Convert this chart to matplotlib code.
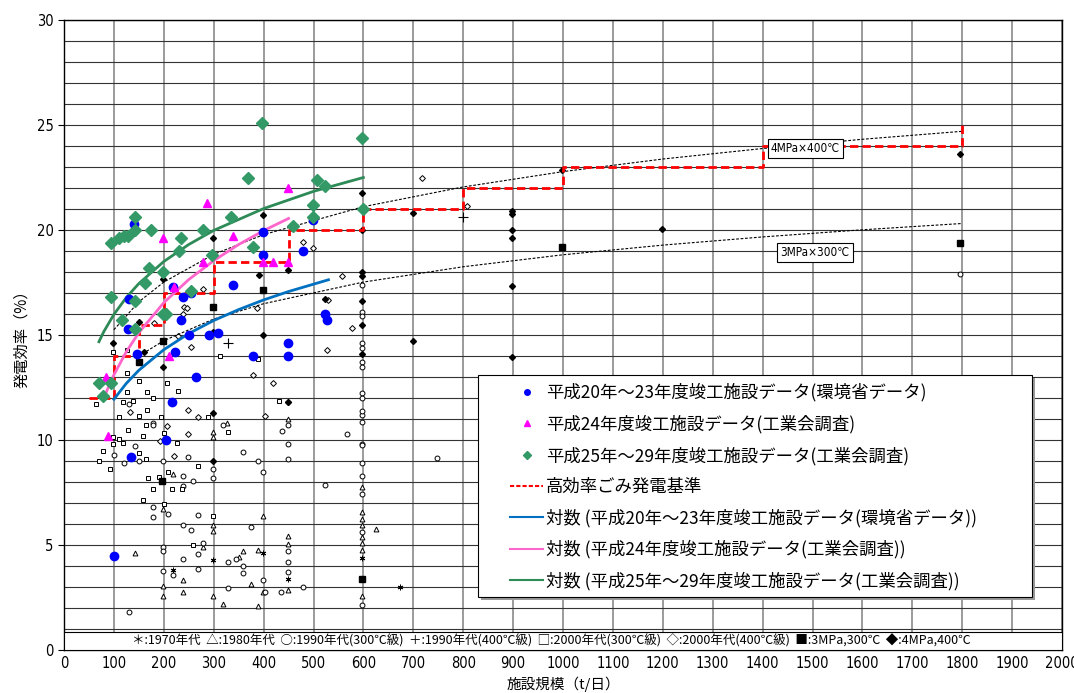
import matplotlib
matplotlib.use("Agg")
from matplotlib import pyplot as plt, font_manager
from matplotlib.lines import Line2D
from matplotlib.patches import Rectangle

plt.rcParams["font.family"] = ["Noto Sans CJK JP", "DejaVu Sans"]
installed = {f.name for f in font_manager.fontManager.ttflist}
narrow = "Liberation Sans Narrow" if "Liberation Sans Narrow" in installed else "DejaVu Sans"

# --- colour series ---
blue_x = [101, 128, 131, 134, 140, 146, 204, 217, 219, 223, 234, 239, 251, 254, 264, 291, 308, 339, 378, 398,
          399, 448, 448, 478, 498, 524, 528]
blue_y = [4.5, 15.3, 16.7, 9.2, 20.3, 14.1, 10.0, 11.8, 17.3, 14.2, 15.7, 16.8, 15.0, 17.0, 13.0, 15.0, 15.1,
          17.4, 14.0, 18.8, 19.9, 14.6, 14.0, 19.0, 20.5, 16.0, 15.7]

pink_x = [84, 88, 199, 211, 220, 279, 286, 339, 399, 419, 449, 449]
pink_y = [13.0, 10.2, 19.6, 14.0, 17.3, 18.5, 21.3, 19.7, 18.5, 18.5, 18.5, 22.0]

green_x = [70, 79, 95, 94, 95, 110, 120, 128, 142, 142, 117, 143, 142, 162, 170, 174, 199, 199, 205, 230,
           234, 254, 279, 297, 335, 368, 379, 397, 459, 498, 498, 508, 524, 597, 599]
green_y = [12.7, 12.1, 12.7, 16.8, 19.4, 19.6, 19.7, 19.7, 20.0, 20.6, 15.7, 15.3, 16.6, 17.5, 18.2, 20.0,
           18.0, 16.0, 16.0, 19.0, 19.6, 17.1, 20.0, 18.8, 20.6, 22.5, 19.2, 25.1, 20.2, 21.2, 20.6, 22.4,
           22.1, 24.4, 21.0]

# --- trend lines ---
blue_tx = [100, 125, 150, 200, 250, 300, 350, 400, 450, 530]
blue_ty = [11.94, 12.70, 13.32, 14.30, 15.07, 15.69, 16.21, 16.67, 17.07, 17.63]
pink_tx = [80, 90, 100, 125, 150, 200, 250, 300, 350, 400, 450]
pink_ty = [12.0, 12.58, 13.10, 14.21, 15.11, 16.54, 17.64, 18.54, 19.31, 19.97, 20.55]
green_tx = [70, 80, 100, 125, 150, 200, 250, 300, 400, 500, 600]
green_ty = [14.68, 15.17, 15.98, 16.79, 17.45, 18.50, 19.31, 19.98, 21.02, 21.84, 22.50]

# reference curves
ref4_x = [100, 150, 200, 300, 400, 600, 800, 1000, 1200, 1400, 1600, 1800]
ref4_y = [15.25, 16.58, 17.52, 18.84, 19.78, 21.11, 22.05, 22.78, 23.38, 23.88, 24.32, 24.70]
ref3_x = [150, 200, 300, 400, 600, 800, 1000, 1200, 1400, 1600, 1800]
ref3_y = [14.0, 14.73, 15.76, 16.49, 17.52, 18.25, 18.82, 19.28, 19.67, 20.01, 20.31]

# high efficiency standard (step)
std_x = [50, 100, 150, 200, 300, 450, 600, 800, 1000, 1400, 1800]
std_y = [12, 14, 15.5, 17, 18.5, 20, 21, 22, 23, 24, 25]

# --- older plant data (black markers) ---
star70_x = [219, 299, 398, 449, 598, 598, 673]
star70_y = [3.8, 4.3, 4.6, 3.4, 4.4, 3.4, 3.0]

tri80_x = [142, 199, 199, 199, 219, 239, 239, 279, 299, 299, 299, 299, 299, 319, 326, 350, 358, 374, 389, 389,
           399, 399, 449, 449, 449, 449, 598, 598, 598, 598, 598, 598, 598, 598, 625]
tri80_y = [4.6, 6.7, 3.05, 2.55, 8.4, 3.35, 2.75, 4.9, 10.4, 10.15, 5.95, 5.65, 2.55, 2.2, 10.8, 4.45, 4.7,
           3.15, 4.75, 2.1, 6.4, 2.75, 11.0, 5.45, 5.05, 2.85, 7.75, 6.55, 6.25, 5.95, 5.4, 5.1, 4.75, 2.55, 5.75]

circ90_x = [130, 179, 179, 143, 120, 100, 150, 199, 249, 239, 239, 259, 179, 179, 209, 199, 199, 239, 255, 269,
            279, 269, 239, 199, 219, 269, 130, 299, 299, 319, 359, 389, 399, 437, 449, 449, 449, 329, 358, 358,
            344, 374, 399, 403, 434, 449, 449, 449, 478, 523, 568, 598, 598, 598, 598, 598, 598, 598, 329, 748,
            598, 598, 598, 598, 598, 1796, 598, 598, 598, 598, 598, 598, 598]
circ90_y = [11.7, 10.8, 10.7, 9.7, 8.9, 9.3, 9.0, 9.0, 9.2, 8.3, 7.8, 8.05, 6.8, 6.35, 6.5, 4.9, 4.7, 5.95, 5.7,
            6.45, 5.1, 4.55, 4.35, 3.75, 3.55, 3.85, 1.8, 8.6, 8.2, 10.7, 9.45, 9.0, 8.5, 10.45, 10.7, 9.8, 9.1,
            4.2, 4.0, 3.65, 4.35, 5.85, 3.35, 2.75, 2.75, 4.7, 4.2, 3.7, 3.0, 7.85, 10.3, 11.2, 9.8, 8.9, 8.3,
            7.45, 5.6, 2.15, 2.95, 9.15, 12.25, 12.0, 11.4, 10.85, 9.75, 17.9, 17.4, 16.1, 15.9, 14.6, 14.4,
            13.7, 13.5]

plus90_x = [329, 799]
plus90_y = [14.6, 20.6]

sq00_x = [64, 119, 138, 110, 150, 167, 194, 164, 129, 98, 110, 119, 159, 79, 98, 70, 92, 164, 150, 200,
          227, 269, 169, 191, 209, 217, 179, 237, 159, 200, 289, 328, 430, 259, 299,
          99, 127, 127, 150, 206, 229, 313, 389, 126, 167, 179]
sq00_y = [11.7, 11.8, 11.85, 11.1, 11.15, 11.45, 11.1, 10.7, 10.5, 10.15, 10.05, 9.85, 10.2, 9.5, 9.8, 9.0,
          8.6, 9.1, 9.4, 10.35, 9.85, 8.75, 8.2, 8.25, 8.5, 7.65, 7.65, 7.65, 7.15, 6.95, 11.1, 10.4, 11.85,
          5.0, 6.4, 14.2, 14.3, 13.2, 12.8, 12.7, 12.35, 14.0, 13.85, 12.3, 12.3, 12.0]

dia00_x = [132, 249, 269, 207, 249, 192, 220, 403, 279, 240, 246, 239, 229, 254, 180, 386, 378, 419, 479, 498,
           530, 528, 577, 558, 449, 718, 808]
dia00_y = [11.35, 11.45, 11.1, 10.65, 10.3, 9.95, 9.25, 11.15, 17.2, 16.35, 16.3, 16.0, 14.95, 14.45, 15.55,
           16.3, 13.1, 12.7, 19.45, 19.15, 16.65, 14.3, 15.35, 17.8, 11.8, 22.5, 21.15]

sq3_x = [150, 199, 196, 299, 399, 598, 997, 1796]
sq3_y = [13.7, 14.7, 8.05, 16.35, 17.15, 3.4, 19.2, 19.4]

dia4_x = [99, 150, 160, 199, 199, 299, 299, 299, 399, 399, 399, 390, 449, 449, 524, 598, 598, 598, 598, 598,
          598, 598, 699, 699, 898, 898, 898, 898, 898, 898, 997, 1198, 1796, 299]
dia4_y = [14.6, 15.6, 14.2, 17.65, 13.5, 19.6, 15.15, 9.0, 20.7, 19.95, 15.0, 17.85, 18.1, 11.8, 16.7, 21.75,
          20.0, 18.0, 17.8, 16.6, 15.5, 14.1, 20.8, 14.7, 20.9, 20.75, 20.0, 19.6, 17.35, 13.95, 22.85, 20.05,
          23.6, 11.3]

labels = [
    "平成20年～23年度竣工施設データ(環境省データ)",
    "平成24年度竣工施設データ(工業会調査)",
    "平成25年～29年度竣工施設データ(工業会調査)",
    "高効率ごみ発電基準",
    "対数 (平成20年～23年度竣工施設データ(環境省データ))",
    "対数 (平成24年度竣工施設データ(工業会調査))",
    "対数 (平成25年～29年度竣工施設データ(工業会調査))",
]
strip_text = ("＊:1970年代  △:1980年代  ○:1990年代(300℃級)  ＋:1990年代(400℃級)  "
              "□:2000年代(300℃級)  ◇:2000年代(400℃級)  ■:3MPa,300℃  ◆:4MPa,400℃")

fig = plt.figure(figsize=(10.74, 6.93), dpi=100)
ax = fig.add_axes([64 / 1074, 1 - 650 / 693, 998 / 1074, 630 / 693])

# black markers
blk = dict(linestyle="none", color="black", zorder=3)
ax.plot(star70_x, star70_y, marker=(6, 2, 0), ms=4, mew=0.7, **blk)
ax.plot(tri80_x, tri80_y, marker="^", ms=3.5, mfc="white", mew=0.7, **blk)
ax.plot(circ90_x, circ90_y, marker="o", ms=3.5, mfc="white", mew=0.7, **blk)
ax.plot(plus90_x, plus90_y, marker="+", ms=7, mew=0.8, **blk)
ax.plot(sq00_x, sq00_y, marker="s", ms=3.5, mfc="white", mew=0.7, **blk)
ax.plot(dia00_x, dia00_y, marker="D", ms=3, mfc="white", mew=0.7, **blk)
ax.plot(sq3_x, sq3_y, marker="s", ms=4, **blk)
ax.plot(dia4_x, dia4_y, marker="D", ms=3, **blk)

# reference curves + standard
ax.plot(ref4_x, ref4_y, color="black", lw=0.8, ls=(0, (2.5, 1.5)), zorder=4)
ax.plot(ref3_x, ref3_y, color="black", lw=0.8, ls=(0, (2.5, 1.5)), zorder=4)
ax.step(std_x, std_y, where="post", color="#FF0000", lw=2, ls=(0, (3, 1.5)), zorder=5)

# trend lines
ax.plot(blue_tx, blue_ty, color="#0070C0", lw=2, zorder=6)
ax.plot(pink_tx, pink_ty, color="#FF66CC", lw=2, zorder=6)
ax.plot(green_tx, green_ty, color="#2E8B57", lw=2, zorder=6)

# survey data
ax.plot(blue_x, blue_y, "o", color="#0000FF", ms=6, zorder=7)
ax.plot(pink_x, pink_y, "^", color="#FF00FF", ms=6, zorder=7)
ax.plot(green_x, green_y, "D", color="#339966", ms=6, zorder=7)

ax.text(1486, 23.87, "4MPa×400℃", family=[narrow, "Noto Sans CJK JP"], fontstretch="condensed", fontsize=8.5,
        ha="center", va="center", zorder=8, bbox=dict(boxstyle="square,pad=0.25", fc="white", ec="black", lw=0.8))
ax.text(1505, 18.95, "3MPa×300℃", family=[narrow, "Noto Sans CJK JP"], fontstretch="condensed", fontsize=8.5,
        ha="center", va="center", zorder=8, bbox=dict(boxstyle="square,pad=0.25", fc="white", ec="black", lw=0.8))

# key strip at the bottom
ax.add_patch(Rectangle((0, 0), 1, 0.85 / 30, transform=ax.transAxes, fc="white", ec="black", lw=0.8,
                       zorder=9))
ax.text(0.488, 0.42 / 30, strip_text, transform=ax.transAxes, fontsize=9, ha="center", va="center", zorder=10)

ax.set_xlim(0, 2000)
ax.set_ylim(0, 30)
ax.set_xticks(range(0, 2001, 100))
ax.set_yticks(range(0, 31, 5))
ax.set_yticks(range(0, 31), minor=True)
ax.grid(True, axis="x", color="#8a8a8a", lw=1.2, zorder=0)
ax.grid(True, axis="y", which="both", color="#333333", lw=0.8, zorder=0)
ax.set_axisbelow(True)
ax.tick_params(axis="x", length=0, pad=4)
ax.tick_params(axis="y", which="major", length=4, direction="out")
ax.tick_params(axis="y", which="minor", length=0)
for lab in ax.get_xticklabels() + ax.get_yticklabels():
    lab.set_fontfamily(narrow)
    lab.set_fontstretch("condensed")
    lab.set_fontsize(10.5)
for s in ax.spines.values():
    s.set_linewidth(1)
    s.set_color("black")

ax.set_xlabel("施設規模（t/日）", fontsize=10.5, labelpad=4)
ax.set_ylabel("発電効率（%）", fontsize=11, labelpad=5)

# legend box (frame drawn by hand so the padding matches)
ax.add_patch(Rectangle((0.4148 + 0.003, 0.0841 - 0.005), 0.5552, 0.3524, transform=ax.transAxes,
                       fc="#9a9a9a", ec="none", zorder=10))
ax.add_patch(Rectangle((0.4148, 0.0841), 0.5552, 0.3524, transform=ax.transAxes,
                       fc="white", ec="black", lw=0.8, zorder=10))
handles = [
    Line2D([], [], ls="none", marker="o", color="#0000FF", ms=4),
    Line2D([], [], ls="none", marker="^", color="#FF00FF", ms=4),
    Line2D([], [], ls="none", marker="D", color="#339966", ms=4),
    Line2D([], [], color="#FF0000", lw=1.5, ls=(0, (2, 1))),
    Line2D([], [], color="#0070C0", lw=1.5),
    Line2D([], [], color="#FF66CC", lw=1.5),
    Line2D([], [], color="#2E8B57", lw=1.5),
]
leg = ax.legend(handles, labels, loc="upper left", bbox_to_anchor=(0.447, 0.4235), fontsize=12.5,
                frameon=False, handlelength=1.9, handletextpad=0.15, labelspacing=0.74, borderpad=0,
                borderaxespad=0)
leg.set_zorder(11)

fig.savefig("out.png", dpi=100)
